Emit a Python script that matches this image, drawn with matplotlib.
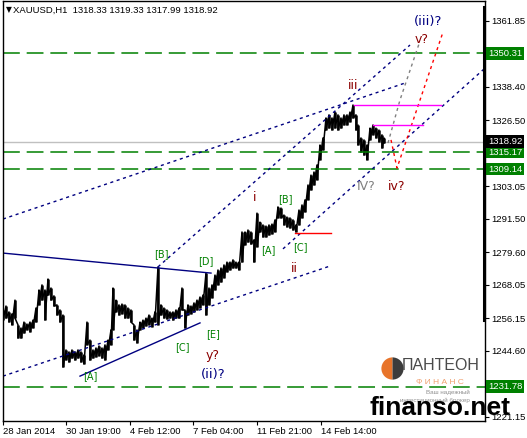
import matplotlib
matplotlib.use('Agg')
import matplotlib.pyplot as plt
from matplotlib.lines import Line2D
import matplotlib.transforms as mtransforms

plt.rcParams['font.family'] = ['Liberation Sans', 'DejaVu Sans']

# H1 bars, sampled every few bars (bar index from chart start)
bars = [0, 3, 6, 9, 12, 15, 18, 21, 24, 27, 30, 33, 36, 39, 42, 45, 48, 51, 54, 57,
        60, 63, 66, 69, 72, 75, 78, 81, 84, 87, 90, 93, 96, 99, 102, 105, 108, 110, 113, 116,
        119, 122, 125, 128, 131, 134, 137, 140, 143, 146, 149, 152, 155, 158, 161, 164, 167, 170, 173, 176,
        179, 182, 185, 188, 191, 194, 197, 200, 203, 206, 209, 212, 215, 218, 221, 224, 227, 230, 233, 236,
        239, 242, 245, 248, 251, 254, 257, 260, 263, 266, 269, 272, 275, 278, 281, 284, 287, 290, 293, 296,
        299, 302, 305, 308, 311, 314, 317, 320, 323, 326, 329, 332, 335, 338, 341, 344, 347, 350, 353, 355,
        358, 361, 364, 367, 370, 373, 376, 379, 381]
highs = [1259.1, 1260.5, 1258.4, 1257.7, 1262.6, 1253.8, 1252.7, 1254.8, 1254.1, 1254.8, 1255.5, 1259.8, 1266.2, 1268.0, 1266.2, 1270.1, 1266.9, 1264.1, 1260.9, 1259.1,
         1257.3, 1244.9, 1244.2, 1244.9, 1244.2, 1244.9, 1244.2, 1243.1, 1254.8, 1248.4, 1244.9, 1245.6, 1246.3, 1245.6, 1246.7, 1248.4, 1252.0, 1266.9, 1262.6, 1260.9,
         1261.2, 1260.9, 1259.8, 1259.1, 1253.8, 1252.0, 1254.8, 1255.5, 1256.2, 1257.3, 1256.2, 1258.4, 1274.4, 1260.9, 1259.8, 1259.1, 1258.4, 1258.4, 1259.1, 1259.8,
         1266.9, 1259.1, 1260.9, 1260.5, 1261.6, 1262.6, 1263.7, 1264.4, 1272.2, 1266.9, 1268.0, 1271.5, 1273.3, 1274.0, 1275.1, 1276.1, 1276.1, 1276.9, 1276.1, 1276.1,
         1286.8, 1286.8, 1287.5, 1286.8, 1284.0, 1293.5, 1290.3, 1289.3, 1288.9, 1289.3, 1289.6, 1291.1, 1295.7, 1295.3, 1292.8, 1292.1, 1291.8, 1291.1, 1289.3, 1294.6,
         1296.4, 1298.2, 1303.5, 1307.0, 1308.1, 1310.6, 1317.7, 1320.2, 1327.3, 1328.4, 1327.3, 1329.4, 1328.4, 1327.3, 1328.4, 1328.4, 1329.4, 1331.9, 1328.4, 1324.8,
         1320.2, 1319.5, 1317.7, 1323.7, 1324.8, 1323.7, 1323.0, 1321.3, 1320.2]
lows = [1255.5, 1256.2, 1254.8, 1253.8, 1256.2, 1249.1, 1249.1, 1250.9, 1252.0, 1251.3, 1252.7, 1254.8, 1260.9, 1262.6, 1255.5, 1264.4, 1262.6, 1260.5, 1257.3, 1254.8,
        1238.8, 1241.3, 1240.6, 1242.0, 1241.3, 1242.0, 1240.6, 1239.9, 1246.7, 1241.3, 1242.0, 1242.4, 1242.8, 1242.0, 1241.3, 1244.9, 1246.7, 1252.0, 1258.4, 1257.3,
        1257.7, 1256.2, 1256.2, 1254.8, 1248.4, 1247.4, 1252.0, 1252.7, 1253.4, 1253.8, 1253.1, 1254.8, 1253.8, 1257.3, 1256.2, 1255.9, 1256.2, 1255.5, 1256.2, 1256.2,
        1259.1, 1252.7, 1257.3, 1257.7, 1258.4, 1259.1, 1259.8, 1260.9, 1257.3, 1260.9, 1263.4, 1266.2, 1268.0, 1269.0, 1270.5, 1272.6, 1273.3, 1274.0, 1274.0, 1273.3,
        1276.1, 1282.2, 1283.2, 1282.5, 1276.1, 1281.5, 1286.8, 1285.0, 1285.0, 1285.7, 1286.1, 1286.8, 1291.8, 1291.8, 1289.3, 1288.6, 1288.2, 1287.5, 1286.8, 1289.3,
        1291.8, 1293.9, 1298.2, 1301.7, 1303.5, 1305.3, 1312.4, 1315.9, 1323.0, 1323.7, 1323.0, 1323.7, 1323.0, 1323.7, 1324.8, 1324.8, 1325.9, 1327.3, 1323.0, 1317.7,
        1315.2, 1314.1, 1312.4, 1319.5, 1321.3, 1320.2, 1318.8, 1316.6, 1318.4]

time_ticks = [0, 63, 127, 190, 254, 318]
time_labels = ['28 Jan 2014', '30 Jan 19:00', '4 Feb 12:00', '7 Feb 04:00', '11 Feb 21:00', '14 Feb 14:00']
price_ticks = [1361.85, 1338.40, 1326.50, 1303.05, 1291.50, 1279.60, 1268.05, 1256.15, 1244.60, 1221.15]
levels = [1350.31, 1315.17, 1309.14, 1231.78]
last_price = 1318.92

# trend / channel lines, (bar, price) end points
channel_dotted = [
    [(0, 1291.4), (402, 1339.7)],
    [(155, 1274.4), (407, 1353.2)],
    [(0, 1235.6), (327, 1274.7)],
    [(280, 1280.8), (482, 1345.0)],
]
triangle = [
    [(0, 1279.3), (208, 1272.2)],
    [(77, 1235.6), (197, 1254.5)],
]
gray_path = [(385, 1318.4), (397, 1333.7), (416, 1353.6)]
red_path = [(388, 1319.5), (394, 1309.5), (440, 1357.8)]
magenta_lines = [(351, 438, 1331.9), (370, 420, 1324.8)]
red_line = (292, 328, 1286.4)

# wave labels: text, bar, price, colour, size
wave_labels = [
    ('[B]', 158, 1279.0, 'green', 7), ('[D]', 203, 1276.4, 'green', 7),
    ('[A]', 87, 1235.6, 'green', 7), ('[C]', 179, 1246.0, 'green', 7),
    ('[E]', 210, 1250.6, 'green', 7), ('y?', 210, 1242.9, '#8b0000', 9),
    ('(ii)?', 210, 1236.0, '#000080', 9.5),
    ('i', 252, 1299.2, '#8b0000', 9), ('[A]', 265, 1280.4, 'green', 7),
    ('[B]', 282, 1298.5, 'green', 7), ('[C]', 297, 1281.5, 'green', 7),
    ('ii', 291, 1274.0, '#8b0000', 9), ('iii', 350, 1339.0, '#8b0000', 9),
    ('IV?', 363, 1303.1, '#808080', 9), ('iv?', 394, 1302.8, '#8b0000', 9),
    ('v?', 419, 1355.0, '#8b0000', 9), ('(iii)?', 425, 1361.4, '#000080', 9.5),
]

W, H = 527, 438
fig = plt.figure(figsize=(W / 100, H / 100), dpi=100)
ax = fig.add_axes([3 / W, 17 / H, 482 / W, 420 / H])
ax.set_xlim(0, 482)
ax.set_ylim(1219.66, 1368.84)

# price
ax.vlines(bars, lows, highs, color='black', lw=1.8)
zx, zy = [], []
for b, h, l in zip(bars, highs, lows):
    zx += [b, b]
    zy += [h, l]
ax.plot(zx, zy, color='black', lw=1.1)

# levels
for lv in levels:
    ax.axhline(lv, color='green', lw=1.1, dashes=(11, 4.5))
ax.axhline(last_price, color='#c0c0c0', lw=1.0, zorder=1)

dot = (0, (2.2, 2.6))
for seg in channel_dotted:
    ax.plot([p[0] for p in seg], [p[1] for p in seg], color='#000080', lw=1.0, ls=dot)
for seg in triangle:
    ax.plot([p[0] for p in seg], [p[1] for p in seg], color='#000080', lw=1.0)
ax.plot([p[0] for p in gray_path], [p[1] for p in gray_path], color='#808080', lw=1.0, ls=dot)
ax.plot([p[0] for p in red_path], [p[1] for p in red_path], color='red', lw=1.0, ls=dot)
for x0, x1, y in magenta_lines:
    ax.plot([x0, x1], [y, y], color='#ff00ff', lw=1.0)
ax.plot([red_line[0], red_line[1]], [red_line[2]] * 2, color='red', lw=1.0)

for txt, b, p, c, s in wave_labels:
    ax.text(b, p, txt, color=c, fontsize=s, ha='center', va='center', family='DejaVu Sans')

# axes styling
for sp in ['left', 'top', 'right', 'bottom']:
    ax.spines[sp].set_linewidth(1.0)
ax.yaxis.tick_right()
ax.set_yticks(price_ticks)
ax.set_yticklabels(['%.2f' % v for v in price_ticks])
ax.set_xticks(time_ticks)
ax.set_xticklabels(time_labels, ha='left')
ax.tick_params(axis='both', labelsize=6.8, length=3, width=0.8, direction='out', pad=1.5)

tr = mtransforms.blended_transform_factory(ax.transAxes, ax.transData)
for lv in levels:
    ax.text(1.006, lv, '%.2f' % lv, transform=tr, color='white', fontsize=6.8, va='center', ha='left',
            bbox=dict(boxstyle='square,pad=0.2', fc='green', ec='none'))
ax.text(1.006, last_price, '%.2f' % last_price, transform=tr, color='white', fontsize=6.8,
        va='center', ha='left', bbox=dict(boxstyle='square,pad=0.2', fc='black', ec='none'))

# thick bar on the right edge
fig.add_artist(Line2D([484 / W, 484 / W], [1 - 7 / H, 1 - 320 / H], color='black', lw=2.2))

# header
fig.text(6 / W, 1 - 10 / H, '\u25bc', fontsize=5.5, va='center', family='DejaVu Sans')
fig.text(13 / W, 1 - 10 / H, 'XAUUSD,H1  1318.33 1319.33 1317.99 1318.92', fontsize=6.8, va='center')

# watermark
ax.plot([389], [1238.5], marker='o', ms=16, mfc='#e8742a', mfcalt='#3c3c3c', mec='none',
        fillstyle='left')
fig.text(441 / W, 1 - 366 / H, '\u041f\u0410\u041d\u0422\u0415\u041e\u041d', fontsize=11.5, color='#4a4a4a',
         ha='center', va='center')
fig.text(440 / W, 1 - 382 / H, '\u0424 \u0418 \u041d \u0410 \u041d \u0421', fontsize=6, color='#f0a070',
         ha='center', va='center')
fig.text(470 / W, 1 - 392 / H, '\u0412\u0430\u0448 \u043d\u0430\u0434\u0435\u0436\u043d\u044b\u0439',
         fontsize=4.5, color='#909090', ha='right', va='center')
fig.text(470 / W, 1 - 400 / H, '\u0438\u043d\u0432\u0435\u0441\u0442\u0438\u0446\u0438\u043e\u043d\u043d\u044b\u0439 \u0431\u0440\u043e\u043a\u0435\u0440',
         fontsize=4.5, color='#909090', ha='right', va='center')
fig.text(440 / W, 1 - 408 / H, 'finanso.net', fontsize=19, fontweight='bold', color='black',
         ha='center', va='center')

fig.savefig('out.png', dpi=100)
